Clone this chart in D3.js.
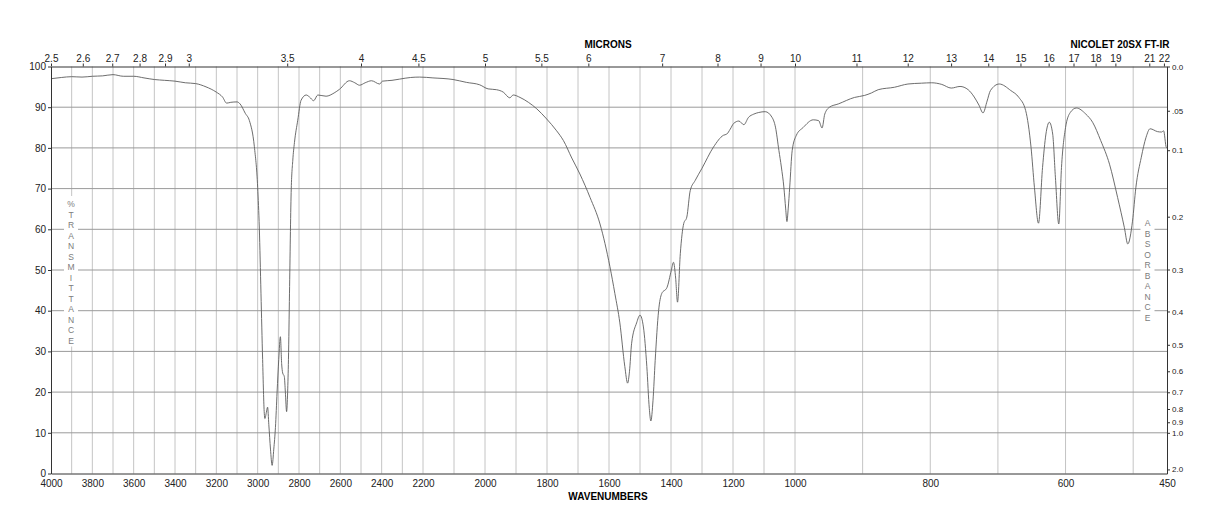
<!DOCTYPE html>
<html>
<head>
<meta charset="utf-8">
<script src="https://cdn.jsdelivr.net/npm/d3@7"></script>
<style>
    body { margin: 0; background: #fff; }
    svg { display: block; font-family: 'Liberation Sans', Arial, sans-serif; }
</style>
</head>
<body>
<div id="chart"></div>
<script>
// spectrum: wavenumber (cm-1) and % transmittance
let wavenumbers = [
    4000, 3950, 3900, 3850, 3800, 3750, 3700, 3650, 3600, 3550, 3500, 3450, 3400, 3350, 3300, 3250,
    3200, 3170, 3150, 3130, 3100, 3085, 3060, 3040, 3016, 3000, 2992, 2984, 2976, 2968, 2965, 2958,
    2952, 2946, 2938, 2930, 2922, 2914, 2906, 2898, 2890, 2884, 2879, 2871, 2866, 2860, 2855, 2851,
    2846, 2838, 2830, 2822, 2806, 2790, 2765, 2749, 2729, 2709, 2669, 2630, 2604, 2556, 2530, 2507,
    2480, 2449, 2410, 2396, 2350, 2313, 2260, 2216, 2168, 2103, 2060, 2017, 1990, 1963, 1941, 1920,
    1909, 1887, 1860, 1833, 1801, 1769, 1747, 1720, 1694, 1661, 1629, 1597, 1581, 1565, 1549, 1540,
    1534, 1527, 1511, 1500, 1489, 1478, 1470, 1465, 1458, 1451, 1440, 1430, 1413, 1399, 1392, 1385,
    1379, 1370, 1359, 1349, 1338, 1322, 1300, 1263, 1231, 1220, 1209, 1198, 1181, 1165, 1150, 1133,
    1117, 1096, 1074, 1063, 1052, 1044, 1036, 1030, 1026, 1022, 1017, 1009, 998, 988, 973, 965,
    960, 956, 949, 936, 912, 897, 887, 877, 853, 833, 813, 798, 783, 769, 756, 744,
    735, 728, 722, 716, 711, 698, 681, 669, 659, 651, 646, 640, 634, 629, 624, 619,
    615, 610, 606, 600, 593, 584, 570, 560, 548, 535, 523, 513, 508, 501, 496, 488,
    481, 475, 464, 458, 455, 451, 450
];
let transmittance = [
    97.0, 97.3, 97.5, 97.4, 97.6, 97.7, 98.0, 97.6, 97.6, 97.2, 96.8, 96.6, 96.4, 96.0, 95.8, 95.0,
    93.7, 92.5, 91.0, 91.2, 91.3, 90.8, 88.5, 86.7, 80.3, 70.3, 60.3, 44.3, 28.0, 14.8, 13.5, 15.0,
    16.3, 12.0, 6.0, 2.0, 6.0, 11.3, 20.0, 28.0, 33.6, 27.0, 24.7, 23.8, 20.0, 15.2, 20.0, 28.0,
    44.3, 69.0, 77.0, 81.3, 86.8, 91.7, 93.0, 92.5, 91.6, 93.0, 92.7, 93.5, 94.4, 96.5, 96.0, 95.4,
    96.0, 96.5, 95.7, 96.4, 96.6, 96.9, 97.3, 97.4, 97.2, 96.8, 96.1, 95.5, 94.5, 94.3, 93.7, 92.3,
    93.0, 92.4, 91.2, 89.6, 87.1, 84.2, 81.8, 77.5, 73.6, 67.8, 61.3, 50.8, 44.2, 37.0, 26.3, 22.2,
    25.0, 32.0, 37.0, 38.9, 36.0, 26.3, 16.0, 12.9, 18.0, 27.8, 40.0, 44.2, 45.7, 49.9, 51.9, 48.0,
    42.1, 54.0, 61.4, 63.0, 69.5, 72.0, 75.0, 80.2, 83.1, 83.4, 84.6, 86.0, 86.6, 85.7, 87.5, 88.3,
    88.7, 88.9, 87.5, 85.1, 79.4, 75.3, 70.4, 65.0, 61.9, 65.0, 70.4, 79.4, 83.1, 85.0, 86.9, 86.7,
    84.9, 88.3, 90.0, 90.8, 92.4, 92.9, 93.5, 94.3, 94.9, 95.7, 95.9, 96.0, 95.6, 94.7, 95.1, 94.3,
    92.5, 90.5, 88.6, 91.5, 94.1, 95.7, 94.1, 92.4, 89.2, 80.1, 70.3, 61.5, 75.2, 83.4, 86.3, 83.4,
    72.8, 61.3, 75.2, 85.0, 88.7, 89.8, 88.3, 86.3, 81.8, 76.0, 67.8, 60.4, 56.4, 62.0, 70.3, 77.7,
    82.6, 84.7, 84.0, 83.9, 84.2, 80.1, 80.0
];

let wnTicks = [4000, 3800, 3600, 3400, 3200, 3000, 2800, 2600, 2400, 2200, 2000, 1800, 1600, 1400, 1200, 1000, 800, 600, 450];
let micronTicks = [2.5, 2.6, 2.7, 2.8, 2.9, 3, 3.5, 4, 4.5, 5, 5.5, 6, 7, 8, 9, 10, 11, 12, 13, 14, 15, 16, 17, 18, 19, 21, 22];
let transTicks = [0, 10, 20, 30, 40, 50, 60, 70, 80, 90, 100];
let absTicks = [0, 0.05, 0.1, 0.2, 0.3, 0.4, 0.5, 0.6, 0.7, 0.8, 0.9, 1.0, 2.0];
let absLabels = ['0.0', '.05', '0.1', '0.2', '0.3', '0.4', '0.5', '0.6', '0.7', '0.8', '0.9', '1.0', '2.0'];
let transLetters = ['%', 'T', 'R', 'A', 'N', 'S', 'M', 'I', 'T', 'T', 'A', 'N', 'C', 'E'];
let absLetters = ['A', 'B', 'S', 'O', 'R', 'B', 'A', 'N', 'C', 'E'];

let width = 1218, height = 528;
let plotLeft = 51, plotRight = 1167, plotTop = 66.5, plotBottom = 473.5;
let seg = (plotRight - plotLeft) / 3;

let svg = d3.select('#chart').append('svg')
    .attr('width', width)
    .attr('height', height);

// three linear pieces, each one third of the width
let x = d3.scaleLinear()
    .domain([4000, 2200, 1000, 450])
    .range([plotLeft, plotLeft + seg, plotLeft + 2 * seg, plotRight]);
let y = d3.scaleLinear()
    .domain([0, 100])
    .range([plotBottom, plotTop]);

// grid
let vGrid = d3.range(3900, 450, -100);
svg.append('g')
    .selectAll('line')
    .data(vGrid)
    .enter()
    .append('line')
        .attr('x1', function(d) { return x(d); })
        .attr('x2', function(d) { return x(d); })
        .attr('y1', plotTop)
        .attr('y2', plotBottom)
        .attr('stroke', '#c4c4c4')
        .attr('stroke-width', 1);

svg.append('g')
    .selectAll('line')
    .data(transTicks.slice(1, -1))
    .enter()
    .append('line')
        .attr('x1', plotLeft)
        .attr('x2', plotRight)
        .attr('y1', function(d) { return y(d); })
        .attr('y2', function(d) { return y(d); })
        .attr('stroke', '#9a9a9a')
        .attr('stroke-width', 1);

// vertical captions sit on white, cutting the grid
function letterColumn(letters, cx, y0, step) {
    let g = svg.append('g');
    g.append('rect')
        .attr('x', cx - 7)
        .attr('y', y0 - 8)
        .attr('width', 14)
        .attr('height', step * (letters.length - 1) + 14)
        .attr('fill', '#fff');
    g.selectAll('text')
        .data(letters)
        .enter()
        .append('text')
            .attr('x', cx)
            .attr('y', function(d, i) { return y0 + i * step + 3; })
            .attr('text-anchor', 'middle')
            .attr('font-size', 8.5)
            .attr('fill', '#7c7c7c')
            .text(function(d) { return d; });
}
letterColumn(transLetters, 71, 204, 10.5);
letterColumn(absLetters, 1147.5, 223, 10.5);

// spectrum
let points = wavenumbers.map(function(w, i) { return [w, transmittance[i]]; });
let line = d3.line()
    .x(function(d) { return x(d[0]); })
    .y(function(d) { return y(d[1]); })
    .curve(d3.curveMonotoneX);

svg.append('path')
    .datum(points)
    .attr('d', line)
    .attr('fill', 'none')
    .attr('stroke', '#5c5c5c')
    .attr('stroke-width', 0.9);

// axes
function styleAxis(g, size) {
    g.select('.domain').attr('stroke', '#333');
    g.selectAll('.tick line').attr('stroke', '#333');
    g.selectAll('.tick text')
        .attr('fill', '#222')
        .attr('font-size', size)
        .attr('font-family', "'Liberation Sans', Arial, sans-serif");
}

let xAxisBottom = d3.axisBottom(x)
    .tickValues(wnTicks)
    .tickSize(0)
    .tickPadding(6)
    .tickFormat(d3.format('d'));
svg.append('g')
    .attr('transform', 'translate(0,' + plotBottom + ')')
    .call(xAxisBottom)
    .call(styleAxis, 10);

let xAxisTop = d3.axisTop(x)
    .tickValues(micronTicks.map(function(m) { return 10000 / m; }))
    .tickSize(3)
    .tickSizeOuter(0)
    .tickPadding(2)
    .tickFormat(function(d, i) { return micronTicks[i]; });
svg.append('g')
    .attr('transform', 'translate(0,' + plotTop + ')')
    .call(xAxisTop)
    .call(styleAxis, 10);

let yAxisLeft = d3.axisLeft(y)
    .tickValues(transTicks)
    .tickSize(3)
    .tickSizeOuter(0)
    .tickPadding(2);
svg.append('g')
    .attr('transform', 'translate(' + plotLeft + ',0)')
    .call(yAxisLeft)
    .call(styleAxis, 10);

let yAxisRight = d3.axisRight(y)
    .tickValues(absTicks.map(function(a) { return 100 * Math.pow(10, -a); }))
    .tickSize(3)
    .tickSizeOuter(0)
    .tickPadding(2)
    .tickFormat(function(d, i) { return absLabels[i]; });
svg.append('g')
    .attr('transform', 'translate(' + plotRight + ',0)')
    .call(yAxisRight)
    .call(styleAxis, 8);

// titles
svg.append('text')
    .attr('x', 608)
    .attr('y', 48)
    .attr('text-anchor', 'middle')
    .attr('font-size', 10)
    .attr('font-weight', 'bold')
    .text('MICRONS');

svg.append('text')
    .attr('x', 1120)
    .attr('y', 48)
    .attr('text-anchor', 'middle')
    .attr('font-size', 10)
    .attr('font-weight', 'bold')
    .text('NICOLET 20SX FT-IR');

svg.append('text')
    .attr('x', 608)
    .attr('y', 500)
    .attr('text-anchor', 'middle')
    .attr('font-size', 10)
    .attr('font-weight', 'bold')
    .text('WAVENUMBERS');
</script>
</body>
</html>
